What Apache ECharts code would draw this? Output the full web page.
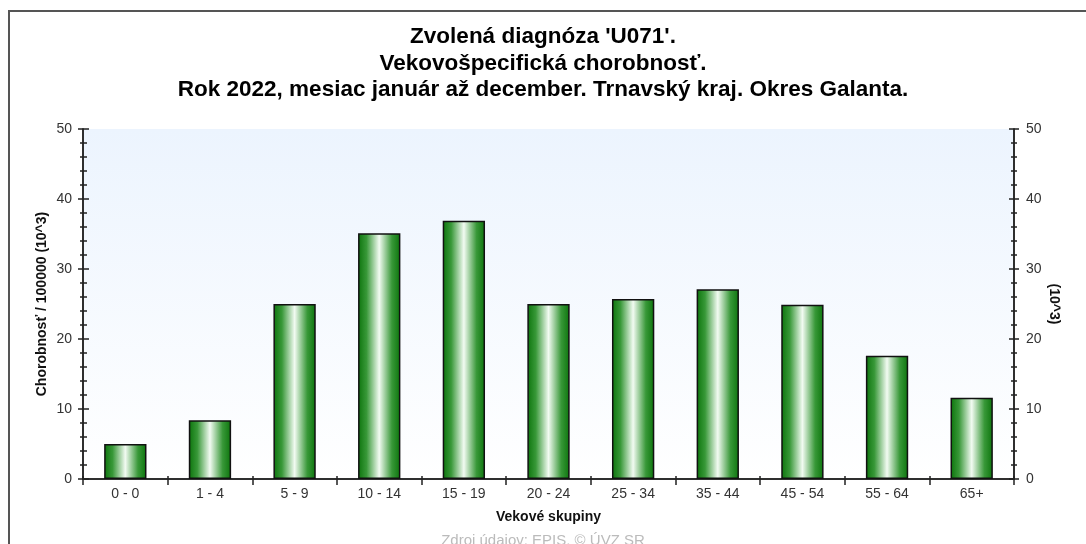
<!DOCTYPE html>
<html>
<head>
<meta charset="utf-8">
<script src="https://cdn.jsdelivr.net/npm/echarts@6/dist/echarts.min.js"></script>
<style>
  html, body { margin: 0; padding: 0; background: #fff; }
  #chart { width: 1086px; height: 544px; }
</style>
</head>
<body>
<div id="chart"></div>
<script>
// vekove skupiny
var ageGroups = ['0 - 0', '1 - 4', '5 - 9', '10 - 14', '15 - 19', '20 - 24', '25 - 34', '35 - 44', '45 - 54', '55 - 64', '65+'];
// chorobnost / 100000 (10^3)
var morbidity = [5.0, 8.4, 25.0, 35.1, 36.9, 25.0, 25.7, 27.1, 24.9, 17.6, 11.6];

var titleLines = ["Zvolená diagnóza 'U071'.", 'Vekovošpecifická chorobnosť.', 'Rok 2022, mesiac január až december. Trnavský kraj. Okres Galanta.'];

var font = "'Liberation Sans', Arial, sans-serif";
var myChart = echarts.init(document.getElementById('chart'));

var barColor = {
    type: 'linear', x: 0, y: 0, x2: 1, y2: 0,
    colorStops: [
        { offset: 0, color: '#0c740c' },
        { offset: 0.2, color: '#389838' },
        { offset: 0.5, color: '#f2fbf2' },
        { offset: 0.8, color: '#389838' },
        { offset: 1, color: '#0c740c' }
    ]
};

function yAx(pos, inside, len, minorLen, extra) {
    var a = {
        type: 'value',
        position: pos,
        min: 0,
        max: 50,
        interval: 10,
        axisLine: { show: true, lineStyle: { color: '#222', width: 1.5 } },
        axisTick: { show: true, inside: inside, length: len, lineStyle: { color: '#222', width: 1.5 } },
        minorTick: { show: true, splitNumber: 5, length: minorLen, lineStyle: { color: '#222', width: 1.5 } },
        axisLabel: { show: false },
        splitLine: { show: false }
    };
    return Object.assign(a, extra || {});
}

var option = {
    animation: false,
    backgroundColor: '#fff',
    textStyle: { fontFamily: font },
    title: {
        text: titleLines.join('\n'),
        left: 'center',
        top: 19,
        textStyle: { fontSize: 22.5, fontWeight: 'bold', color: '#000', lineHeight: 26.5, fontFamily: font }
    },
    grid: {
        left: 83,
        right: 72,
        top: 129,
        bottom: 65,
        show: true,
        borderWidth: 0,
        backgroundColor: {
            type: 'linear', x: 0, y: 0, x2: 0, y2: 1,
            colorStops: [
                { offset: 0, color: '#ecf4fe' },
                { offset: 1, color: '#ffffff' }
            ]
        }
    },
    xAxis: [
        {
            type: 'category',
            data: ageGroups,
            position: 'bottom',
            name: 'Vekové skupiny',
            nameLocation: 'middle',
            nameGap: 31,
            nameTextStyle: { fontSize: 14, fontWeight: 'bold', color: '#111' },
            axisLine: { lineStyle: { color: '#222', width: 1.5 } },
            axisTick: { show: true, length: 6, lineStyle: { color: '#222', width: 1.5 } },
            axisLabel: { fontSize: 14, color: '#333', margin: 8 }
        },
        {
            type: 'category',
            data: ageGroups,
            position: 'bottom',
            axisLine: { show: false },
            axisTick: { show: true, inside: true, length: 3, lineStyle: { color: '#222', width: 1.5 } },
            axisLabel: { show: false }
        },
        {
            type: 'category',
            data: ageGroups,
            position: 'top',
            axisLine: { show: true, lineStyle: { color: '#222', width: 1.5 } },
            axisTick: { show: true, inside: true, length: 6, lineStyle: { color: '#222', width: 1.5 } },
            axisLabel: { show: false }
        }
    ],
    yAxis: [
        yAx('left', false, 5, 3, {
            name: 'Chorobnosť / 100000 (10^3)',
            nameLocation: 'middle',
            nameGap: 34,
            nameMoveOverlap: false,
            nameTextStyle: { fontSize: 14, fontWeight: 'bold', color: '#111' },
            axisLabel: { show: true, fontSize: 14, color: '#333', margin: 11 }
        }),
        yAx('left', true, 6, 4),
        yAx('right', false, 5, 3, {
            name: '(10^3)',
            nameLocation: 'middle',
            nameGap: 33,
            nameMoveOverlap: false,
            nameRotate: -90,
            nameTextStyle: { fontSize: 14, fontWeight: 'bold', color: '#111' },
            axisLabel: { show: true, fontSize: 14, color: '#333', margin: 12 }
        }),
        yAx('right', true, 5, 3)
    ],
    series: [
        {
            type: 'bar',
            xAxisIndex: 0,
            yAxisIndex: 0,
            data: morbidity,
            barWidth: '50%',
            itemStyle: {
                color: barColor,
                borderColor: '#111',
                borderWidth: 1.5
            }
        }
    ],
    graphic: [
        {
            type: 'polyline',
            shape: { points: [[9, 600], [9, 11], [1100, 11]] },
            style: { stroke: '#555', lineWidth: 2, fill: null }
        },
        {
            type: 'text',
            left: 'center',
            top: 533,
            style: { text: 'Zdroj údajov: EPIS, © ÚVZ SR', fill: '#bbb', font: '15px ' + font }
        }
    ]
};

myChart.setOption(option);
</script>
</body>
</html>
